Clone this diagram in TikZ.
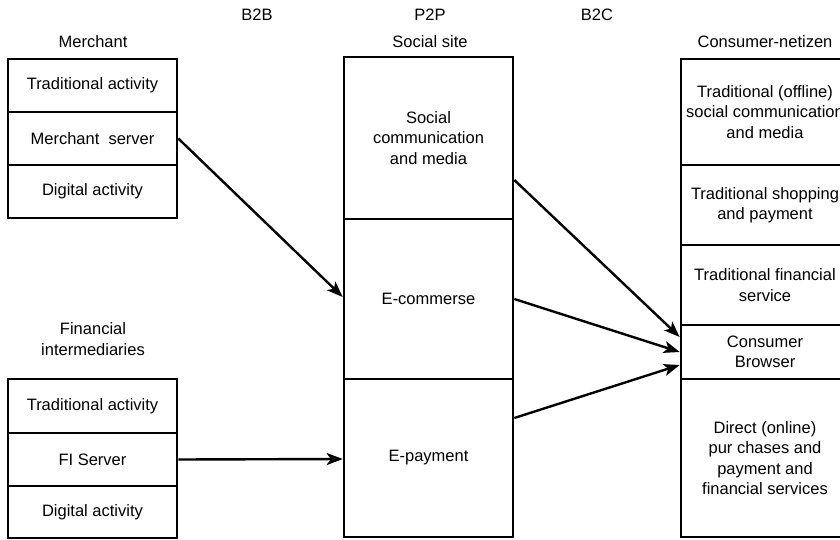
\documentclass[tikz,border=0pt]{standalone}
\usepackage{fontspec}
\setmainfont{Liberation Sans}
\usetikzlibrary{arrows.meta}
\begin{document}
\begin{tikzpicture}[x=1pt,y=-1pt,
  cell/.style={draw,line width=2.6pt,rectangle,inner sep=0pt,align=center,
    font=\fontsize{16.5}{20.5}\selectfont},
  lcell/.style={cell,minimum width=169pt},
  mcell/.style={cell,minimum width=169pt},
  rcell/.style={cell,minimum width=168pt},
  lbl/.style={align=center,inner sep=0pt,font=\fontsize{16.5}{20.5}\selectfont},
  conn/.style={line width=2.4pt,-{Stealth[length=16pt,width=12pt,inset=4pt]}}]
\clip (0,0) rectangle (840,540);
% headers
\node[lbl] (b2b) at (257,15) {B2B};
\node[lbl] (p2p) at (430,15) {P2P};
\node[lbl] (b2c) at (597,15) {B2C};
\node[lbl] (merch) at (93,42) {Merchant};
\node[lbl] (site) at (430,42) {Social site};
\node[lbl] (cons) at (765,42) {Consumer-netizen};
\node[lbl] (fin) at (93,339) {Financial\\intermediaries};
% merchant
\node[lcell,minimum height=53pt] (mtrad) at (92.5,85.5) {Traditional activity};
\node[lcell,minimum height=53pt] (mserv) at (92.5,138.5) {Merchant\ \ server};
\node[lcell,minimum height=53pt] (mdig) at (92.5,191.5) {Digital activity};
% financial
\node[lcell,minimum height=54pt] (ftrad) at (92.5,406) {Traditional activity};
\node[lcell,minimum height=53pt] (fserv) at (92.5,459.5) {FI Server};
\node[lcell,minimum height=52pt] (fdig) at (92.5,512) {Digital activity};
% social site
\node[mcell,minimum height=162pt] (social) at (428.5,138) {Social\\communication\\and media};
\node[mcell,minimum height=160pt] (ecom) at (428.5,299) {E-commerse};
\node[mcell,minimum height=158pt] (epay) at (428.5,458) {E-payment};
% consumer
\node[rcell,minimum height=106pt] (rsoc) at (765,112) {Traditional (offline)\\social communication\\and media};
\node[rcell,minimum height=80pt] (rshop) at (765,205) {Traditional shopping\\and payment};
\node[rcell,minimum height=80pt] (rfin) at (765,285) {Traditional financial\\service};
\node[rcell,minimum height=54pt] (browser) at (765,352) {Consumer\\Browser};
\node[rcell,minimum height=158pt] (direct) at (765,458) {Direct (online)\\pur chases and\\payment and\\financial services};
% connectors
\draw[conn] (mserv.east) -- ([yshift=2pt]ecom.west);
\draw[conn] (fserv.east) -- ([yshift=-1pt]epay.west);
\draw[conn] ([yshift=-42pt]social.east) -- ([yshift=15pt]browser.west);
\draw[conn] (ecom.east) -- (browser.west);
\draw[conn] ([yshift=40pt]epay.east) -- ([yshift=-13pt]browser.west);
\end{tikzpicture}
\end{document}
